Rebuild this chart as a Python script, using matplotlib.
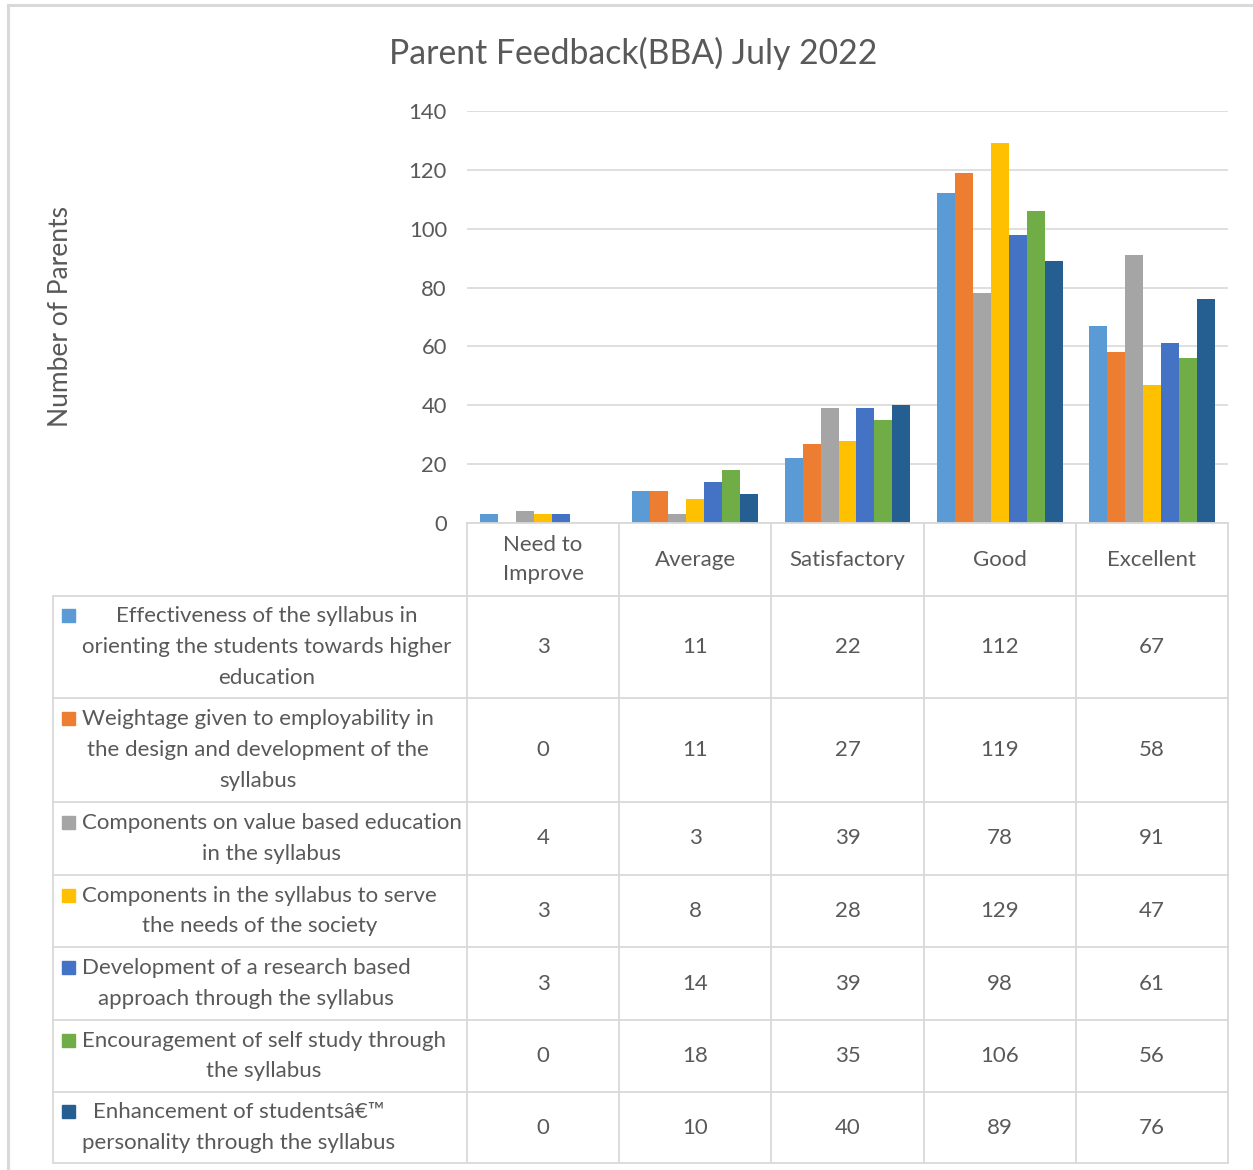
import matplotlib
matplotlib.use("Agg")
import matplotlib.pyplot as plt
from matplotlib.lines import Line2D
from matplotlib.patches import Rectangle
import numpy as np

categories = ["Need to\nImprove", "Average", "Satisfactory", "Good", "Excellent"]
series_names = [
    "Effectiveness of the syllabus in\norienting the students towards higher\neducation",
    "Weightage given to employability in\nthe design and development of the\nsyllabus",
    "Components on value based education\nin the syllabus",
    "Components in the syllabus to serve\nthe needs of the society",
    "Development of a research based\napproach through the syllabus",
    "Encouragement of self study through\nthe syllabus",
    "Enhancement of studentsâ€™\npersonality through the syllabus",
]
values = [
    [3, 11, 22, 112, 67],
    [0, 11, 27, 119, 58],
    [4, 3, 39, 78, 91],
    [3, 8, 28, 129, 47],
    [3, 14, 39, 98, 61],
    [0, 18, 35, 106, 56],
    [0, 10, 40, 89, 76],
]
colors = ["#5B9BD5", "#ED7D31", "#A5A5A5", "#FFC000", "#4472C4", "#70AD47", "#255E91"]
yticks = [0, 20, 40, 60, 80, 100, 120, 140]
title = "Parent Feedback(BBA) July 2022"
ylabel = "Number of Parents"

W, H = 1253, 1170
plt.rcParams['font.family'] = ['Lato', 'DejaVu Sans']
txt = "#595959"
grid_c = "#D9D9D9"

fig = plt.figure(figsize=(W / 100, H / 100), dpi=100)

def fx(px):
    return px / W

def fy(py):
    return 1 - py / H

# plot area
x0, x1 = 467, 1228
y0, y1 = 523, 111
ax = fig.add_axes([fx(x0), fy(y0), fx(x1) - fx(x0), fy(y1) - fy(y0)])
ncat = len(categories)
nser = len(values)
bw = 0.118
xs = np.arange(ncat)
for i, (vals, c) in enumerate(zip(values, colors)):
    ax.bar(xs + (i - (nser - 1) / 2) * bw, vals, width=bw, color=c, zorder=3)
ax.set_xlim(-0.5, ncat - 0.5)
ax.set_ylim(0, 140)
ax.set_yticks(yticks)
ax.yaxis.grid(True, color=grid_c, linewidth=1.2, zorder=0)
ax.set_xticks([])
for s in ax.spines.values():
    s.set_visible(False)
ax.tick_params(axis='y', length=0, pad=14.5, labelsize=15.8, labelcolor=txt)

# title and y label
fig.text(fx(633), fy(53), title, ha='center', va='center', fontsize=24.3, color=txt)
fig.text(fx(60), fy(317), ylabel, ha='center', va='center', rotation=90, fontsize=19, color=txt)

# outer frame
fig.add_artist(Line2D([fx(8), fx(8)], [fy(5), fy(1170)], color=grid_c, lw=2.2))
fig.add_artist(Line2D([fx(8), fx(1253)], [fy(5), fy(5)], color=grid_c, lw=2.2))

# table
col_edges = [x0 + k * (x1 - x0) / ncat for k in range(ncat + 1)]
row_edges = [523, 596, 698, 802, 875, 947, 1020, 1092, 1163]
left_x = 53
lc = "#D9D9D9"
lw = 1.3
fig.add_artist(Line2D([fx(x0), fx(x1)], [fy(row_edges[0])] * 2, color=lc, lw=lw))
for r in row_edges[1:]:
    fig.add_artist(Line2D([fx(left_x), fx(x1)], [fy(r)] * 2, color=lc, lw=lw))
for c in col_edges:
    fig.add_artist(Line2D([fx(c)] * 2, [fy(row_edges[0]), fy(row_edges[-1])], color=lc, lw=lw))
fig.add_artist(Line2D([fx(left_x)] * 2, [fy(row_edges[1]), fy(row_edges[-1])], color=lc, lw=lw))

fs = 16
ls = 1.68
line_h = 31.5
for k, cat in enumerate(categories):
    cx = (col_edges[k] + col_edges[k + 1]) / 2
    cy = (row_edges[0] + row_edges[1]) / 2
    fig.text(fx(cx), fy(cy), cat, ha='center', va='center', fontsize=fs, color=txt,
             linespacing=1.62)
for i in range(nser):
    top, bot = row_edges[i + 1], row_edges[i + 2]
    cy = (top + bot) / 2
    nlines = series_names[i].count("\n") + 1
    first_y = cy - (nlines - 1) * line_h / 2
    fig.add_artist(Rectangle((fx(62), fy(first_y + 6.5)), fx(13), fy(0) - fy(13),
                             color=colors[i], transform=fig.transFigure))
    fig.text(fx(82), fy(cy), series_names[i], ha='left', va='center', multialignment='center',
             fontsize=fs, color=txt, linespacing=ls)
    for k in range(ncat):
        cx = (col_edges[k] + col_edges[k + 1]) / 2
        fig.text(fx(cx), fy(cy), str(values[i][k]), ha='center', va='center', fontsize=fs, color=txt)

fig.savefig("out.png", dpi=100, facecolor="white")
